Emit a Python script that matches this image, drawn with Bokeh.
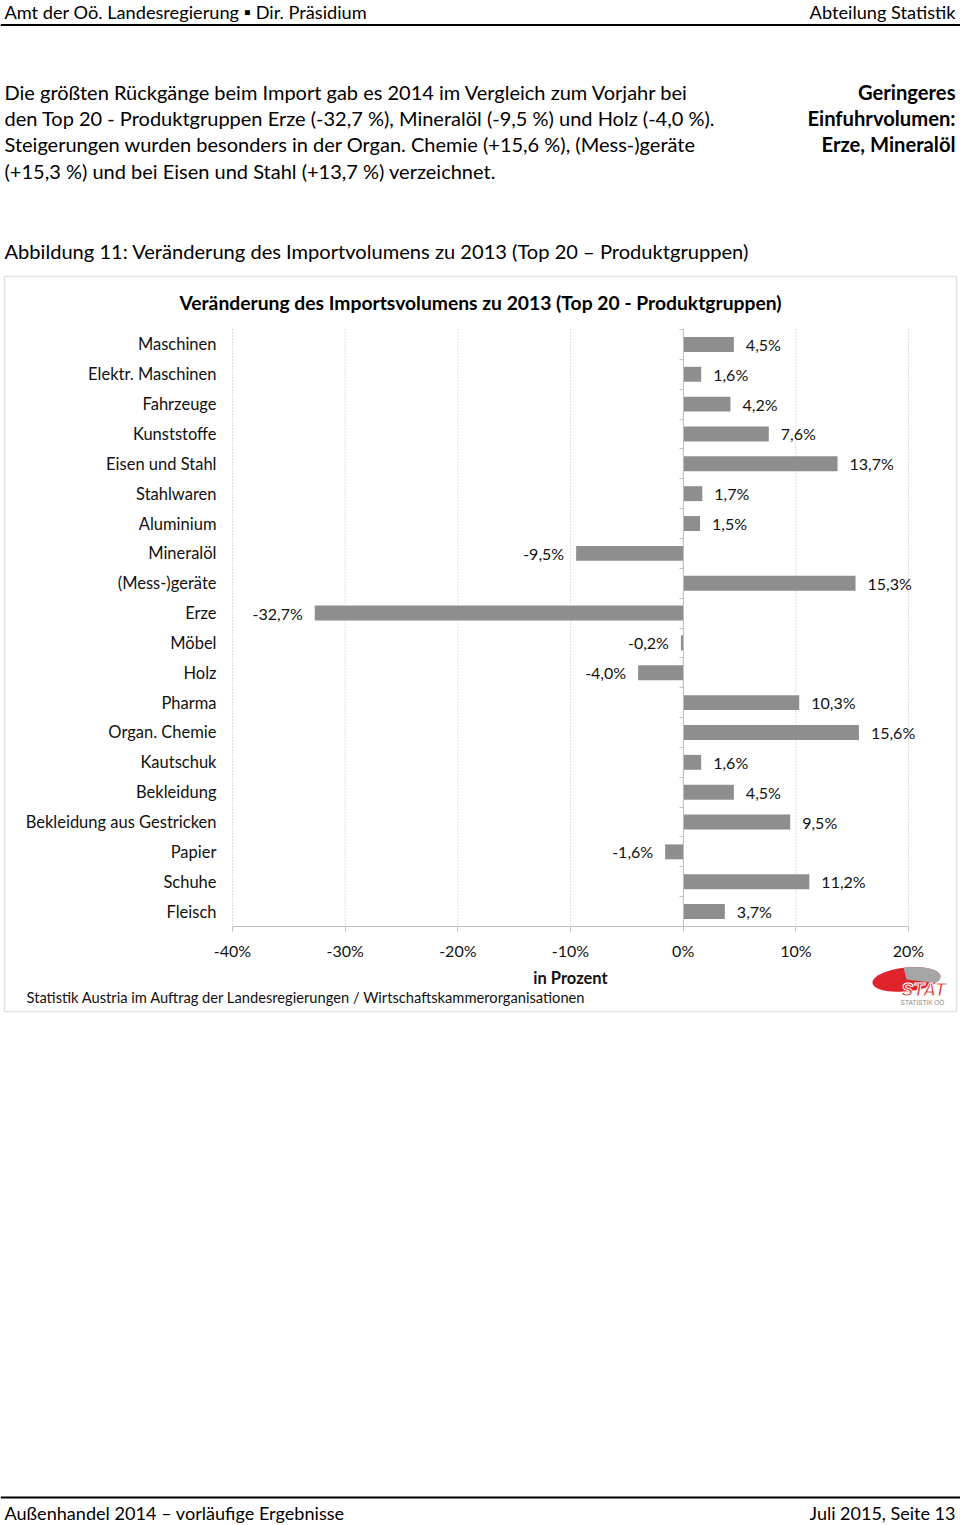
import numpy as np
from bokeh.plotting import figure
from bokeh.models import (Range1d, LinearAxis, FixedTicker, Label, BoxAnnotation,
                          PolyAnnotation, ColumnDataSource)
from bokeh.core.properties import value
from bokeh.embed import file_html
from bokeh.resources import INLINE

# ---------------- data ----------------
categories = ["Maschinen", "Elektr. Maschinen", "Fahrzeuge", "Kunststoffe", "Eisen und Stahl",
              "Stahlwaren", "Aluminium", "Mineralöl", "(Mess-)geräte", "Erze", "Möbel", "Holz",
              "Pharma", "Organ. Chemie", "Kautschuk", "Bekleidung", "Bekleidung aus Gestricken",
              "Papier", "Schuhe", "Fleisch"]
changes = [4.5, 1.6, 4.2, 7.6, 13.7, 1.7, 1.5, -9.5, 15.3, -32.7, -0.2, -4.0, 10.3, 15.6,
           1.6, 4.5, 9.5, -1.6, 11.2, 3.7]
x_ticks = [-40, -30, -20, -10, 0, 10, 20]
x_tick_labels = ["-40%", "-30%", "-20%", "-10%", "0%", "10%", "20%"]

chart_title = "Veränderung des Importsvolumens zu 2013 (Top 20 - Produktgruppen)"
x_axis_title = "in Prozent"
source_note = "Statistik Austria im Auftrag der Landesregierungen / Wirtschaftskammerorganisationen"
header_left = "Amt der Oö. Landesregierung ▪ Dir. Präsidium"
header_right = "Abteilung Statistik"
paragraph = ["Die größten Rückgänge beim Import gab es 2014 im Vergleich zum Vorjahr bei",
             "den Top 20 - Produktgruppen Erze (-32,7 %), Mineralöl (-9,5 %) und Holz (-4,0 %).",
             "Steigerungen wurden besonders in der Organ. Chemie (+15,6 %), (Mess-)geräte",
             "(+15,3 %) und bei Eisen und Stahl (+13,7 %) verzeichnet."]
side_note = ["Geringeres", "Einfuhrvolumen:", "Erze, Mineralöl"]
caption = "Abbildung 11: Veränderung des Importvolumens zu 2013 (Top 20 – Produktgruppen)"
footer_left = "Außenhandel 2014 – vorläufige Ergebnisse"
footer_right = "Juli 2015, Seite 13"

# ---------------- layout constants (pixels) ----------------
FONT = "Lato"
W, H = 960, 1525
PLOT_L, PLOT_R, PLOT_T, PLOT_B = 232, 908, 329, 926
n = len(categories)
x_lo, x_hi = x_ticks[0], x_ticks[-1]
kx = (PLOT_R - PLOT_L) / (x_hi - x_lo)          # px per percent
ky = (PLOT_B - PLOT_T) / n                      # px per row
y_top, y_bot = -0.5, n - 0.5

x_range = Range1d(x_lo - PLOT_L / kx, x_hi + (W - PLOT_R) / kx)
y_range = Range1d(y_bot + (H - PLOT_B) / ky, y_top - PLOT_T / ky)

idx = list(range(n))
labels = [(f"{v:.1f}".replace(".", ",") + "%") for v in changes]
src = ColumnDataSource(dict(
    y=idx, v=changes, lab=labels,
    align=["left" if v >= 0 else "right" for v in changes],
    off=[12 if v >= 0 else -12 for v in changes],
))

p = figure(width=W, height=H, x_range=x_range, y_range=y_range,
           x_axis_type=None, y_axis_type=None,
           min_border=0, min_border_left=0, min_border_right=0,
           min_border_top=0, min_border_bottom=0,
           output_backend="svg", toolbar_location=None,
           background_fill_color="white", border_fill_color="white", outline_line_color=None)

# dotted vertical gridlines at the x ticks, over the plot area only
p.segment(x0=x_ticks, x1=x_ticks, y0=[y_top] * len(x_ticks), y1=[y_bot] * len(x_ticks),
          line_color="#c4c4c4", line_dash="1 2", line_width=1)

# bars
p.hbar(y="y", left=0, right="v", height=0.5, source=src,
       fill_color="#8e8e8e", line_color=None)

# value labels
p.text(x="v", y="y", text="lab", source=src, x_offset="off", text_align="align",
       text_baseline="middle", text_font=value(FONT),
       text_font_size="16px", text_color="#111111")

# x axis (at bottom of plot area)
xaxis = LinearAxis(fixed_location=y_bot, bounds=(x_lo, x_hi), ticker=FixedTicker(ticks=x_ticks),
                   major_label_overrides={t: l for t, l in zip(x_ticks, x_tick_labels)},
                   axis_line_color="#c0c0c0", major_tick_line_color="#c0c0c0",
                   major_tick_out=5, major_tick_in=0, minor_tick_line_color=None,
                   major_label_standoff=9, major_label_text_font=FONT,
                   major_label_text_font_size="16px", major_label_text_color="#111111")
p.add_layout(xaxis, "below")

# category axis (labels at left of plot area)
yaxis = LinearAxis(fixed_location=x_lo, bounds=(y_top, y_bot), ticker=FixedTicker(ticks=idx),
                   major_label_overrides={i: c for i, c in zip(idx, categories)},
                   axis_line_color=None, major_tick_line_color=None, minor_tick_line_color=None,
                   major_tick_out=0, major_tick_in=0, major_label_standoff=16,
                   major_label_text_font=FONT, major_label_text_font_size="16.5px",
                   major_label_text_color="#111111")
p.add_layout(yaxis, "left")

# zero line with ticks between categories
bounds = [i - 0.5 for i in range(n + 1)]
zaxis = LinearAxis(fixed_location=0, bounds=(y_top, y_bot), ticker=FixedTicker(ticks=bounds),
                   major_label_overrides={b: "" for b in bounds},
                   axis_line_color="#c0c0c0", major_tick_line_color="#c0c0c0",
                   major_tick_out=4, major_tick_in=0, minor_tick_line_color=None,
                   major_label_standoff=0, major_label_text_font_size="1px")
p.add_layout(zaxis, "left")


def lab(x, y, text, size="18px", align="left", style="normal", color="#000000", font=FONT, **kw):
    p.add_layout(Label(x=x, y=y, x_units="canvas", y_units="canvas", text=text,
                       text_align=align, text_baseline="middle", text_font=font,
                       text_font_size=size, text_font_style=style, text_color=color, **kw))


def hbox(left, right, top, bottom, **kw):
    p.add_layout(BoxAnnotation(left=left, right=right, top=top, bottom=bottom,
                               left_units="canvas", right_units="canvas",
                               top_units="canvas", bottom_units="canvas", **kw))


# page header
lab(4, 11, header_left, "18.2px")
lab(955, 11, header_right, "18.2px", align="right")
hbox(0, 960, 23.5, 25.5, fill_color="#000000", fill_alpha=1, line_color=None)

for i, line in enumerate(paragraph):
    lab(4, 91 + i * 26.4, line, "20px")
for i, line in enumerate(side_note):
    lab(955, 91 + i * 26.4, line, "20.2px", align="right", style="bold")
lab(4, 250, caption, "20.1px")

# page footer
hbox(0, 960, 1496, 1498, fill_color="#000000", fill_alpha=1, line_color=None)
lab(4, 1512, footer_left, "18.1px")
lab(955, 1512, footer_right, "18px", align="right")

# chart box and chart texts
hbox(4, 956, 276, 1011, fill_alpha=0, line_color="#a0a0a0", line_width=1.5)
lab(480, 302, chart_title, "19.3px", align="center", style="bold")
lab((PLOT_L + PLOT_R) / 2, 977, x_axis_title, "16.5px", align="center", style="bold", color="#111111")
lab(26, 996, source_note, "14.7px", color="#111111")

# logo
t = np.linspace(0, 2 * np.pi, 60)
cx, cy, rx, ry = 906, 979, 34, 12
p.add_layout(PolyAnnotation(xs=list(cx + rx * np.cos(t)), ys=list(cy - ry * np.sin(t) - 3 * np.cos(t)),
                            xs_units="canvas", ys_units="canvas",
                            fill_color="#e0242b", fill_alpha=1, line_color=None))
tw = np.linspace(np.radians(-30), np.radians(95), 30)
p.add_layout(PolyAnnotation(xs=[cx] + list(cx + rx * np.cos(tw)),
                            ys=[cy] + list(cy - ry * np.sin(tw) - 3 * np.cos(tw)),
                            xs_units="canvas", ys_units="canvas",
                            fill_color="#a6a6a6", fill_alpha=1, line_color=None))
lab(923, 989, "STAT", "18px", align="center", style="bold italic", color="#e0242b",
    font="Liberation Sans", text_outline_color="white")
lab(922, 1002, "STATISTIK OÖ", "6.5px", align="center", color="#888888", font="Liberation Sans")

open("out.html", "w").write(file_html(p, INLINE))
